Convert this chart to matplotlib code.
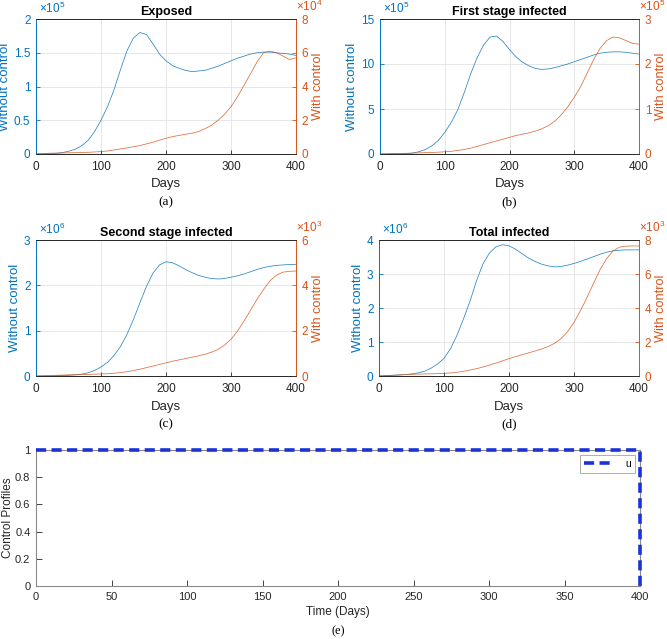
import numpy as np
import matplotlib
matplotlib.use("Agg")
import matplotlib.pyplot as plt

plt.rcParams['font.family'] = ['Liberation Sans', 'DejaVu Sans']
plt.rcParams['mathtext.fontset'] = 'custom'
plt.rcParams['mathtext.rm'] = 'Liberation Sans'

# days sampled every 10 days
days = np.arange(0, 401, 10)

# Exposed (without control in 1e5, with control in 1e4)
exposed_nc = [0.0, 0.0, 0.01, 0.01, 0.02, 0.04, 0.07, 0.12, 0.2, 0.33, 0.5, 0.7, 0.95, 1.25, 1.53,
              1.72, 1.8, 1.77, 1.63, 1.48, 1.38, 1.31, 1.27, 1.24, 1.22, 1.23, 1.24, 1.27, 1.3, 1.34,
              1.38, 1.42, 1.45, 1.48, 1.5, 1.51, 1.51, 1.5, 1.49, 1.48, 1.46]
exposed_c = [0.02, 0.03, 0.04, 0.05, 0.06, 0.07, 0.08, 0.09, 0.1, 0.12, 0.14, 0.18, 0.24, 0.3, 0.36,
             0.43, 0.5, 0.6, 0.7, 0.82, 0.93, 1.03, 1.1, 1.17, 1.23, 1.33, 1.5, 1.7, 2.0, 2.35,
             2.8, 3.4, 4.07, 4.75, 5.45, 6.0, 6.1, 6.0, 5.8, 5.6, 5.7]

# First stage infected (1e5 both)
first_nc = [0.0, 0.0, 0.01, 0.02, 0.05, 0.1, 0.25, 0.5, 0.9, 1.5, 2.4, 3.5, 4.9, 6.8, 8.9,
            10.7, 12.1, 13.0, 13.1, 12.5, 11.6, 10.8, 10.2, 9.8, 9.5, 9.4, 9.45, 9.6, 9.8, 10.0,
            10.25, 10.5, 10.75, 11.0, 11.2, 11.3, 11.35, 11.35, 11.3, 11.2, 11.1]
first_c = [0.0, 0.005, 0.01, 0.012, 0.015, 0.02, 0.025, 0.03, 0.035, 0.04, 0.05, 0.06, 0.08, 0.1, 0.13,
           0.17, 0.21, 0.25, 0.29, 0.33, 0.37, 0.41, 0.44, 0.47, 0.51, 0.56, 0.63, 0.73, 0.87, 1.05,
           1.26, 1.5, 1.8, 2.1, 2.35, 2.52, 2.6, 2.58, 2.52, 2.46, 2.44]

# Second stage infected (1e6 and 1e3)
second_nc = [0.0, 0.0, 0.0, 0.005, 0.01, 0.015, 0.025, 0.04, 0.07, 0.12, 0.2, 0.3, 0.45, 0.65, 0.92,
             1.25, 1.62, 1.98, 2.27, 2.45, 2.52, 2.5, 2.43, 2.35, 2.28, 2.22, 2.18, 2.15, 2.14, 2.15,
             2.18, 2.21, 2.25, 2.3, 2.35, 2.39, 2.42, 2.44, 2.45, 2.46, 2.46]
second_c = [0.0, 0.01, 0.02, 0.03, 0.04, 0.05, 0.055, 0.06, 0.07, 0.08, 0.09, 0.1, 0.12, 0.15, 0.19,
            0.24, 0.3, 0.37, 0.44, 0.51, 0.58, 0.65, 0.71, 0.77, 0.83, 0.89, 0.96, 1.05, 1.17, 1.36,
            1.62, 1.98, 2.42, 2.9, 3.38, 3.82, 4.2, 4.45, 4.58, 4.62, 4.63]

# Total infected (1e6 and 1e3)
total_nc = [0.0, 0.01, 0.02, 0.03, 0.04, 0.06, 0.09, 0.14, 0.23, 0.35, 0.52, 0.8, 1.2, 1.68, 2.2,
            2.8, 3.3, 3.62, 3.8, 3.86, 3.83, 3.73, 3.6, 3.47, 3.37, 3.29, 3.24, 3.21, 3.22, 3.26,
            3.31, 3.37, 3.44, 3.51, 3.58, 3.64, 3.68, 3.7, 3.71, 3.71, 3.71]
total_c = [0.0, 0.02, 0.04, 0.06, 0.08, 0.1, 0.11, 0.12, 0.13, 0.14, 0.15, 0.18, 0.22, 0.28, 0.35,
           0.43, 0.53, 0.64, 0.76, 0.89, 1.02, 1.14, 1.25, 1.36, 1.47, 1.59, 1.73, 1.92, 2.2, 2.6,
           3.15, 3.85, 4.62, 5.45, 6.25, 6.9, 7.35, 7.58, 7.64, 7.65, 7.65]

# control profile
u_days = [0, 400, 400]
u_vals = [1, 1, 0]

BLUE = '#0072BD'
ORANGE = '#D95319'
DARK = '#262626'

W, H = 667, 639
fig = plt.figure(figsize=(W / 100, H / 100), dpi=100)


def box(x0, y0, x1, y1):
    return [x0 / W, 1 - y1 / H, (x1 - x0) / W, (y1 - y0) / H]


panels = [
    ('Exposed', exposed_nc, exposed_c, [0, 0.5, 1, 1.5, 2], ['0', '0.5', '1', '1.5', '2'],
     [0, 2, 4, 6, 8], '5', '4', '(a)', box(36, 19, 296, 154)),
    ('First stage infected', first_nc, first_c, [0, 5, 10, 15], ['0', '5', '10', '15'],
     [0, 1, 2, 3], '5', '5', '(b)', box(380, 19, 639, 154)),
    ('Second stage infected', second_nc, second_c, [0, 1, 2, 3], ['0', '1', '2', '3'],
     [0, 2, 4, 6], '6', '3', '(c)', box(36, 240, 296, 376)),
    ('Total infected', total_nc, total_c, [0, 1, 2, 3, 4], ['0', '1', '2', '3', '4'],
     [0, 2, 4, 6, 8], '6', '3', '(d)', box(379, 240, 639, 376)),
]

for title, nc, c, lt, ltl, rt, le, re_, sub, pos in panels:
    ax = fig.add_axes(pos)
    ax.plot(days, nc, color=BLUE, lw=0.55, alpha=0.85)
    ax.set_xlim(0, 400)
    ax.set_ylim(lt[0], lt[-1])
    ax.set_xticks([0, 100, 200, 300, 400])
    ax.set_yticks(lt)
    ax.set_yticklabels(ltl)
    ax.grid(True, color='#e3e3e3', lw=0.6)
    ax.set_axisbelow(True)
    ax.tick_params(direction='in', length=3, width=0.6, labelsize=8.5, pad=4)
    ax.tick_params(axis='y', colors=BLUE)
    ax.tick_params(axis='x', colors=DARK, pad=5)
    ax.set_xlabel('Days', fontsize=9.5, color=DARK, labelpad=4)
    ax.set_ylabel('Without control', fontsize=9.5, color=BLUE, labelpad=2)
    ax.set_title(title, fontsize=9, fontweight='bold', pad=3)
    ax.text(0.01, 1.02, r'$\times10^{%s}$' % le, transform=ax.transAxes, color=BLUE,
            fontsize=8.5, ha='left', va='bottom')

    ax2 = ax.twinx()
    ax2.plot(days, c, color=ORANGE, lw=0.55, alpha=0.85)
    ax2.set_ylim(rt[0], rt[-1])
    ax2.set_yticks(rt)
    ax2.tick_params(direction='in', length=3, width=0.6, labelsize=8.5, colors=ORANGE, pad=4)
    ax2.set_ylabel('With control', fontsize=9.2, color=ORANGE, labelpad=3)
    ax2.text(1.0, 1.035, r'$\times10^{%s}$' % re_, transform=ax.transAxes, color=ORANGE,
             fontsize=8.5, ha='left', va='bottom')
    for a in (ax, ax2):
        a.spines['left'].set_color(BLUE)
        a.spines['right'].set_color(ORANGE)
        a.spines['top'].set_color(DARK)
        a.spines['bottom'].set_color(DARK)
        for s in a.spines.values():
            s.set_linewidth(0.6)
    ax.text(0.5, -0.355, sub, transform=ax.transAxes, ha='center', va='center',
            fontsize=9.5, family='Liberation Serif')

# panel (e)
GREY = '#8a8a8a'
axe = fig.add_axes(box(36, 450, 640, 586))
axe.plot(u_days, u_vals, color='#1a33d6', lw=2.6, dashes=(2.8, 1.5), label='u',
         clip_on=False, zorder=5)
axe.set_xlim(0, 400)
axe.set_ylim(0, 1)
axe.set_xticks(np.arange(0, 401, 50))
axe.set_yticks([0, 0.2, 0.4, 0.6, 0.8, 1])
axe.set_yticklabels(['0', '0.2', '0.4', '0.6', '0.8', '1'])
axe.tick_params(direction='in', length=4, width=0.6, labelsize=8, colors=DARK, pad=4)
for s in axe.spines.values():
    s.set_color(GREY)
    s.set_linewidth(0.8)
axe.set_xlabel('Time (Days)', fontsize=8.5, color=DARK, labelpad=3)
axe.set_ylabel('Control Profiles', fontsize=8.5, color=DARK, labelpad=1)
leg = axe.legend(loc='upper right', fontsize=7.5, handlelength=2.8, frameon=True, fancybox=False,
                 borderaxespad=0.5, borderpad=0.35, handletextpad=1.2)
leg.get_frame().set_edgecolor(GREY)
leg.get_frame().set_linewidth(0.6)
axe.text(0.5, -0.33, '(e)', transform=axe.transAxes, ha='center', va='center',
         fontsize=9, family='Liberation Serif')

fig.savefig('out.png', dpi=100)
